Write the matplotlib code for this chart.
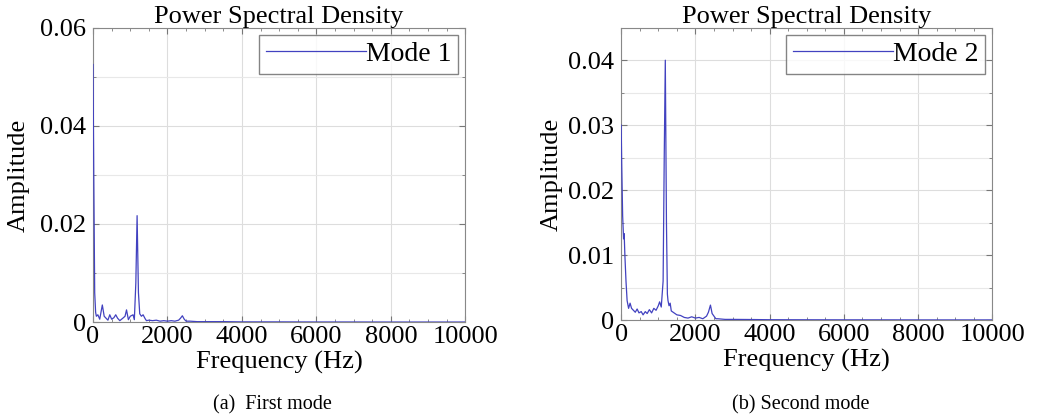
import matplotlib
matplotlib.use('Agg')
import matplotlib.pyplot as plt
from matplotlib.ticker import MultipleLocator

plt.rcParams['font.family'] = ['Liberation Serif', 'DejaVu Serif']

# mode 1 spectrum (Hz, amplitude)
freq1 = [0, 20, 45, 70, 90, 130, 180, 250, 300, 350, 400, 450, 500, 560, 610,
         660, 720, 800, 860, 900, 950, 1000, 1075, 1110, 1150, 1184, 1220, 1255,
         1300, 1345, 1400, 1435, 1500, 1600, 1700, 1800, 1900, 2000, 2100, 2200,
         2300, 2350, 2400, 2450, 2500, 2600, 2800, 3000, 3500, 4000, 5000, 6000,
         7000, 8000, 9000, 10000]
amp1 = [0.0525, 0.030, 0.006, 0.002, 0.0012, 0.0015, 0.0006, 0.0035, 0.0012,
        0.0008, 0.0004, 0.0015, 0.0006, 0.0009, 0.0015, 0.0008, 0.0003, 0.0008,
        0.0012, 0.0025, 0.0005, 0.0012, 0.0015, 0.0005, 0.008, 0.0217, 0.006,
        0.0017, 0.0012, 0.0015, 0.0007, 0.0003, 0.0004, 0.0003, 0.0004, 0.0002,
        0.0003, 0.0002, 0.0003, 0.0002, 0.0004, 0.0008, 0.0013, 0.0006, 0.0002,
        0.0002, 0.0001, 0.0001, 0.0001, 0.00005, 0.00005, 0.00003, 0.00003,
        0.00002, 0.00002, 0.00002]

# mode 2 spectrum (Hz, amplitude)
freq2 = [0, 15, 40, 65, 81, 100, 130, 160, 200, 240, 280, 330, 380, 430, 480,
         540, 590, 650, 700, 760, 820, 880, 940, 1000, 1036, 1080, 1130, 1160,
         1189, 1220, 1245, 1261, 1290, 1320, 1350, 1400, 1450, 1500, 1600, 1700,
         1800, 1900, 2000, 2100, 2200, 2300, 2350, 2405, 2450, 2500, 2550, 2600,
         2800, 3000, 3500, 4000, 5000, 6000, 7000, 8000, 9000, 10000]
amp2 = [0.030, 0.024, 0.016, 0.0125, 0.0133, 0.010, 0.006, 0.003, 0.0018,
        0.0026, 0.0018, 0.0015, 0.0012, 0.0017, 0.0011, 0.0013, 0.0008, 0.0013,
        0.0010, 0.0016, 0.0011, 0.0018, 0.0015, 0.0022, 0.0028, 0.0020, 0.006,
        0.025, 0.040, 0.015, 0.004, 0.0030, 0.0022, 0.0026, 0.0014, 0.0012,
        0.0010, 0.0008, 0.0007, 0.0004, 0.0003, 0.0005, 0.0003, 0.0004, 0.0002,
        0.0006, 0.0012, 0.0023, 0.0010, 0.0006, 0.0002, 0.0002, 0.0001, 0.0001,
        0.00008, 0.00005, 0.00004, 0.00003, 0.00003, 0.00002, 0.00002, 0.00002]

line_color = '#4242c0'

fig = plt.figure(figsize=(10.37, 4.2), dpi=100)
ax1 = fig.add_axes([0.0897, 0.233, 0.359, 0.701])
ax2 = fig.add_axes([0.599, 0.238, 0.358, 0.696])


def style(ax, ymax, ymajor, yminor, ylabelpad):
    ax.set_xlim(0, 10000)
    ax.set_ylim(0, ymax)
    ax.xaxis.set_major_locator(MultipleLocator(2000))
    ax.xaxis.set_minor_locator(MultipleLocator(500))
    ax.yaxis.set_major_locator(MultipleLocator(ymajor))
    ax.yaxis.set_minor_locator(MultipleLocator(yminor))
    ax.yaxis.set_major_formatter(plt.FuncFormatter(lambda v, p: '0' if v == 0 else '%.2f' % v))
    ax.grid(True, which='major', color='#dddddd', linewidth=0.8)
    ax.grid(True, which='minor', axis='y', color='#e8e8e8', linewidth=0.8)
    ax.tick_params(which='both', direction='in', top=True, right=True,
                   colors='#777777', labelcolor='black', labelsize=19)
    ax.tick_params(axis='x', which='major', pad=3)
    ax.tick_params(axis='y', which='major', pad=5)
    ax.tick_params(which='major', length=4)
    ax.tick_params(which='minor', length=2)
    for s in ax.spines.values():
        s.set_color('#888888')
    ax.set_title('Power Spectral Density', fontsize=19, pad=3)
    ax.set_xlabel('Frequency (Hz)', fontsize=19, labelpad=2)
    ax.set_ylabel('Amplitude', fontsize=19, labelpad=ylabelpad)
    leg = ax.legend(loc='upper right', handlelength=3.6, handletextpad=0,
                    fontsize=20, fancybox=False, borderpad=0.25,
                    borderaxespad=0.25)
    leg.get_frame().set_edgecolor('#666666')
    leg.get_frame().set_linewidth(1.0)


ax1.plot(freq1, amp1, color=line_color, linewidth=0.9, label='Mode 1', zorder=3)
style(ax1, 0.06, 0.02, 0.01, 7)

ax2.plot(freq2, amp2, color=line_color, linewidth=0.9, label='Mode 2', zorder=3)
style(ax2, 0.045, 0.01, 0.005, 4)

fig.text(0.263, 0.025, '(a)  First mode', ha='center', fontsize=14.5)
fig.text(0.772, 0.025, '(b) Second mode', ha='center', fontsize=14.5)

fig.savefig('out.png', dpi=100)
